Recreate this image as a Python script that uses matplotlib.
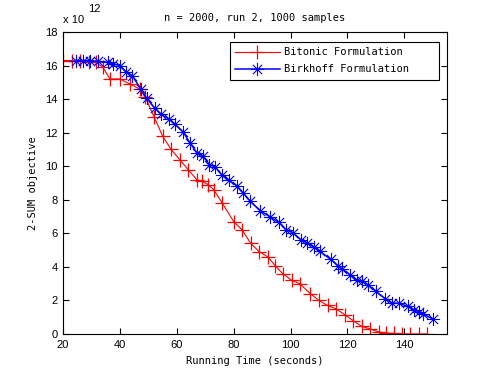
import numpy as np
import matplotlib
matplotlib.use("Agg")
import matplotlib.pyplot as plt
from matplotlib.path import Path

# values (y in units of 1e12)
bitonic_time = [20, 23, 26, 29, 31.5, 34, 36.5, 40, 43.5, 47, 49, 52, 55, 58, 61,
                64, 67, 69, 71, 73, 76, 80, 83, 86, 89, 92, 94.7, 97.2, 100.4, 103.2,
                107, 110, 113, 116, 119, 122, 125, 128, 131, 133.7, 136.5, 139.3,
                142, 145, 148]
bitonic_obj = [16.3, 16.3, 16.3, 16.2, 16.2, 15.9, 15.2, 15.2, 14.9, 14.6, 14.1,
               12.95, 11.8, 11.0, 10.4, 9.8, 9.2, 9.1, 8.9, 8.6, 7.8, 6.7, 6.2, 5.4,
               4.9, 4.6, 4.05, 3.6, 3.2, 3.0, 2.4, 2.0, 1.7, 1.5, 1.15, 0.8, 0.45,
               0.3, 0.12, 0.06, 0.03, 0.0, 0.0, 0.0, 0.0]

birkhoff_time = [24.4, 27.1, 29.5, 32.4, 35.7, 37.7, 40, 42.3, 44.3, 47.4, 49.4,
                 52.3, 54.4, 57.4, 59.3, 62.2, 64.6, 67.1, 69.2, 71.5, 73.5, 76,
                 78.4, 81, 83.3, 85.9, 89.4, 92.6, 95.9, 98.5, 101, 103.7, 105.7,
                 108.2, 110.3, 114.1, 116.6, 118.2, 121, 123.3, 125, 127.1, 129.9,
                 133.3, 135.5, 138.1, 141.3, 143.4, 145, 146.6, 150.1]
birkhoff_obj = [16.3, 16.3, 16.3, 16.25, 16.2, 16.1, 16.0, 15.6, 15.4, 14.6, 14.05,
                13.45, 13.1, 12.8, 12.5, 12.05, 11.4, 10.8, 10.6, 10.1, 9.95, 9.45,
                9.15, 8.85, 8.4, 7.9, 7.35, 7.0, 6.65, 6.2, 6.02, 5.6, 5.44, 5.18,
                4.93, 4.45, 4.07, 3.87, 3.52, 3.22, 3.15, 2.95, 2.55, 2.1, 1.86, 1.82,
                1.65, 1.43, 1.33, 1.2, 0.88]

xticks = [20, 40, 60, 80, 100, 120, 140]
yticks = [0, 2, 4, 6, 8, 10, 12, 14, 16, 18]

# matlab style asterisk: plus with shorter diagonal arms
d = 0.7
asterisk = Path([(-1, 0), (1, 0), (0, -1), (0, 1), (-d, -d), (d, d), (-d, d), (d, -d)],
                [Path.MOVETO, Path.LINETO] * 4)

mono = "DejaVu Sans Mono"
plt.rcParams["font.family"] = "Liberation Sans"

fig = plt.figure(figsize=(4.95, 3.75), dpi=100)
ax = fig.add_axes([63 / 495, 41 / 375, 384 / 495, 302 / 375])

ax.plot(bitonic_time, bitonic_obj, color="red", lw=0.8, marker="+",
        ms=9.5, mew=0.9, label="Bitonic Formulation     ")
ax.plot(birkhoff_time, birkhoff_obj, color="blue", lw=1.1, marker=asterisk,
        ms=9.5, mew=0.8, label="Birkhoff Formulation    ")

ax.set_xlim(20, 155)
ax.set_ylim(0, 18)
ax.set_xticks(xticks)
ax.set_yticks(yticks)
ax.tick_params(direction="in", top=True, right=True, length=4, width=0.8,
               labelsize=8, pad=4)
for s in ax.spines.values():
    s.set_linewidth(0.8)

ax.set_title("n = 2000, run 2, 1000 samples", fontfamily=mono, fontsize=7.5, pad=8)
ax.set_xlabel("Running Time (seconds)", fontfamily=mono, fontsize=7.5, labelpad=5)
ax.set_ylabel("2-SUM objective", fontfamily=mono, fontsize=7.5, labelpad=5)

fig.text(63 / 495, (375 - 23) / 375, "x 10", fontsize=8)
fig.text(88 / 495, (375 - 12) / 375, "12", fontsize=8)

leg = ax.legend(loc="upper right", bbox_to_anchor=(439 / 495, 333 / 375),
                bbox_transform=fig.transFigure, borderaxespad=0,
                prop={"family": mono, "size": 7.5}, fancybox=False,
                edgecolor="black", framealpha=1, handlelength=4.3,
                handletextpad=0.4, borderpad=0.5, labelspacing=0.7)
leg.get_frame().set_linewidth(0.8)

fig.savefig("out.png", dpi=100, facecolor="white")
